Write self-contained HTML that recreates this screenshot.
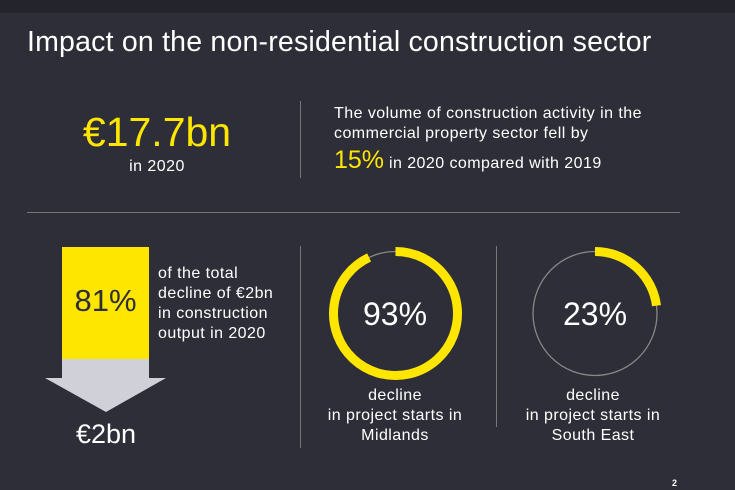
<!DOCTYPE html>
<html><head><meta charset="utf-8"><style>
body{margin:0;width:735px;height:490px;background:#2e2e38;overflow:hidden;font-family:"Liberation Sans",sans-serif;color:#fff;position:relative}
div,span{position:absolute}
.c{text-align:center}
.t{font-size:16px;letter-spacing:0.45px}
</style></head><body>
<div style="left:0;top:0;width:735px;height:13px;background:#24242c"></div>
<div style="left:27px;top:26px;font-size:28.5px;font-weight:300;letter-spacing:0.2px;white-space:nowrap">Impact on the non-residential construction sector</div>
<div class="c" style="left:52px;top:109px;width:210px;font-size:41px;color:#ffe600">€17.7bn</div>
<div class="c t" style="left:52px;top:158px;width:210px">in 2020</div>
<div style="left:300px;top:101px;width:1px;height:77px;background:#777"></div>
<div class="t" style="left:334px;top:104px;line-height:20px;white-space:nowrap">The volume of construction activity in the<br>commercial property sector fell by</div>
<div class="t" style="left:334px;top:146px;white-space:nowrap"><span style="position:static;font-size:25px;letter-spacing:0;color:#ffe600">15%</span> in 2020 compared with 2019</div>
<div style="left:27px;top:212px;width:653px;height:1px;background:#777"></div>
<svg width="735" height="490" style="position:absolute;left:0;top:0">
<rect x="62" y="247" width="87" height="112" fill="#ffe600"/>
<polygon points="62,359 149,359 149,378 166,378 106,412 45,378 62,378" fill="#d0d0d8"/>
</svg>
<div class="c" style="left:62px;top:283px;width:87px;font-size:31px;color:#2e2e38">81%</div>
<div class="c" style="left:56px;top:419px;width:100px;font-size:27px">€2bn</div>
<div class="t" style="left:158px;top:264px;line-height:20px;white-space:nowrap">of the total<br>decline of €2bn<br>in construction<br>output in 2020</div>
<div style="left:300px;top:246px;width:1px;height:202px;background:#777"></div>
<div style="left:496px;top:246px;width:1px;height:181px;background:#777"></div>
<svg id="rings" width="735" height="490" style="position:absolute;left:0;top:0"></svg>
<div class="c" style="left:335px;top:296px;width:120px;font-size:32px">93%</div>
<div class="c" style="left:535px;top:296px;width:120px;font-size:32px">23%</div>
<div class="c t" style="left:305px;top:386px;width:180px;line-height:20px">decline<br>in project starts in<br>Midlands</div>
<div class="c t" style="left:503px;top:386px;width:180px;line-height:20px">decline<br>in project starts in<br>South East</div>
<div style="left:672px;top:478px;font-size:9px;font-weight:bold">2</div>
<script>
const regions=["Midlands","South East"];
const values=[93,23];
const cx=[395.5,595];
const svg=document.getElementById('rings');
const NS="http://www.w3.org/2000/svg";
values.forEach((v,i)=>{
  const g=document.createElementNS(NS,'g');
  
  
  const c=document.createElementNS(NS,'circle');
  c.setAttribute('cx',cx[i]);c.setAttribute('cy',313.5);c.setAttribute('r',62);
  c.setAttribute('fill','none');c.setAttribute('stroke','#888');c.setAttribute('stroke-width','1.3');
  g.appendChild(c);
  const r=62,a=v/100*2*Math.PI;
  const x1=cx[i],y1=313.5-r,x2=cx[i]+r*Math.sin(a),y2=313.5-r*Math.cos(a);
  const p=document.createElementNS(NS,'path');
  
  
  p.setAttribute('d',`M${x1},${y1} A${r},${r} 0 ${v>50?1:0} 1 ${x2},${y2}`);
  p.setAttribute('fill','none');p.setAttribute('stroke','#ffe600');p.setAttribute('stroke-width','9');
  g.appendChild(p);
  svg.appendChild(g);
});
</script>
</body></html>
